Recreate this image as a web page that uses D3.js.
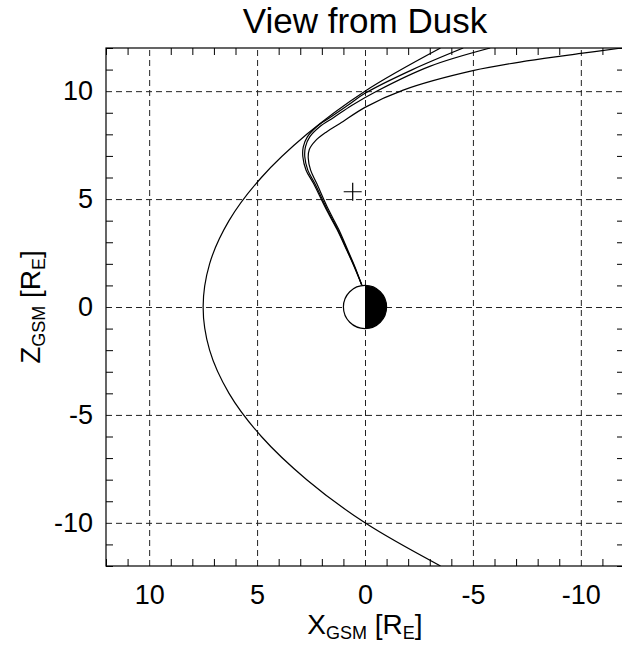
<!DOCTYPE html>
<html>
<head>
<meta charset="utf-8">
<script src="https://cdn.jsdelivr.net/npm/d3@7"></script>
<style>
  body { margin: 0; background: #fff; }
  text { font-family: "Liberation Sans", Arial, Helvetica, sans-serif; fill: #000; }
</style>
</head>
<body>
<svg id="chart" width="622" height="647"></svg>
<script>
// - - - - - - - - - -
// data (X_GSM, Z_GSM in Earth radii)
// - - - - - - - - - -
const majorTicks = [10, 5, 0, -5, -10];
const tickLabels = ['10', '5', '0', '-5', '-10'];
const minorTicks = [-12, -11, -9, -8, -7, -6, -4, -3, -2, -1, 1, 2, 3, 4, 6, 7, 8, 9, 11, 12];

const magnetopause = [
    [-3.5, -12], [0, -10], [2.7, -8], [4.8, -6], [6.3, -4], [7.2, -2], [7.5, 0],
    [7.2, 2], [6.3, 4], [4.8, 6], [2.7, 8], [0, 10], [-3.5, 12]
];
const fieldLineA = [
    [0.15, 1.02], [0.5, 1.87], [0.85, 2.64], [1.3, 3.6], [1.78, 4.49], [2.39, 5.73],
    [2.73, 6.34], [2.88, 6.96], [2.86, 7.42], [2.67, 7.88], [2.24, 8.35], [1.62, 8.78],
    [0.85, 9.31], [0, 9.9], [-2.2, 11.0], [-4.55, 12.0]
];
const fieldLineB = [
    [0.15, 1.02], [0.49, 1.87], [0.83, 2.64], [1.27, 3.6], [1.74, 4.49], [2.33, 5.73],
    [2.65, 6.34], [2.79, 6.96], [2.76, 7.42], [2.56, 7.88], [2.1, 8.35], [1.45, 8.78],
    [0.6, 9.35], [-0.54, 10.0], [-3.0, 11.15], [-5.8, 12.0]
];
const fieldLineC = [
    [0.15, 1.02], [0.47, 1.87], [0.8, 2.64], [1.22, 3.6], [1.68, 4.49], [2.24, 5.73],
    [2.52, 6.34], [2.63, 6.9], [2.58, 7.3], [2.3, 7.7], [1.8, 8.1], [1.16, 8.5],
    [0, 9.25], [-1.77, 10.05], [-5.0, 10.95], [-7.5, 11.4], [-10, 11.75], [-11.9, 12.0]
];
const spacecraft = [[0.57, 5.34]];

// - - - - - - - - - -
const svg = d3.select('#chart');
const plotLeft = 106, plotTop = 48, size = 518;

const x = d3.scaleLinear().domain([12, -12]).range([plotLeft, plotLeft + size]);
const z = d3.scaleLinear().domain([12, -12]).range([plotTop, plotTop + size]);

// clip for the curves
svg.append('clipPath').attr('id', 'plot')
    .append('rect').attr('x', plotLeft).attr('y', plotTop).attr('width', size).attr('height', size);

// dashed grid at major values
const gridStyle = g => {
    g.select('.domain').remove();
    g.selectAll('line').attr('stroke', '#222').attr('stroke-width', 1).attr('stroke-dasharray', '6,4');
};
svg.append('g').attr('transform', `translate(0,${plotTop + size})`)
    .call(d3.axisBottom(x).tickValues(majorTicks).tickSize(-size).tickFormat(''))
    .call(gridStyle);
svg.append('g').attr('transform', `translate(${plotLeft},0)`)
    .call(d3.axisLeft(z).tickValues(majorTicks).tickSize(-size).tickFormat(''))
    .call(gridStyle);

// minor ticks on all four sides
const tickStyle = g => {
    g.select('.domain').remove();
    g.selectAll('line').attr('stroke', '#000').attr('stroke-width', 1);
};
svg.append('g').attr('transform', `translate(0,${plotTop + size})`)
    .call(d3.axisBottom(x).tickValues(minorTicks).tickSize(-7).tickFormat('')).call(tickStyle);
svg.append('g').attr('transform', `translate(0,${plotTop})`)
    .call(d3.axisTop(x).tickValues(minorTicks).tickSize(-7).tickFormat('')).call(tickStyle);
svg.append('g').attr('transform', `translate(${plotLeft},0)`)
    .call(d3.axisLeft(z).tickValues(minorTicks).tickSize(-7).tickFormat('')).call(tickStyle);
svg.append('g').attr('transform', `translate(${plotLeft + size},0)`)
    .call(d3.axisRight(z).tickValues(minorTicks).tickSize(-7).tickFormat('')).call(tickStyle);

// tick labels
const labelStyle = g => {
    g.select('.domain').remove();
    g.selectAll('line').remove();
    g.selectAll('text').attr('font-size', 27)
        .style('font-family', '"Liberation Sans", Arial, sans-serif').attr('fill', '#000');
};
svg.append('g').attr('transform', `translate(0,${plotTop + size})`)
    .call(d3.axisBottom(x).tickValues(majorTicks).tickSize(0).tickPadding(19)
        .tickFormat((d, i) => tickLabels[i]))
    .call(labelStyle);
svg.append('g').attr('transform', `translate(${plotLeft},0)`)
    .call(d3.axisLeft(z).tickValues(majorTicks).tickSize(0).tickPadding(13)
        .tickFormat((d, i) => tickLabels[i]))
    .call(labelStyle);

// frame
svg.append('rect').attr('x', plotLeft).attr('y', plotTop).attr('width', size).attr('height', size)
    .attr('fill', 'none').attr('stroke', '#000').attr('stroke-width', 1.2);

// - - - - - - - - - -
// curves
const line = d3.line().x(d => x(d[0])).y(d => z(d[1])).curve(d3.curveCatmullRom.alpha(0.5));
const curves = svg.append('g').attr('clip-path', 'url(#plot)');
[magnetopause, fieldLineA, fieldLineB, fieldLineC].forEach(data => {
    curves.append('path').attr('d', line(data))
        .attr('fill', 'none').attr('stroke', '#000').attr('stroke-width', 1.2);
});

// spacecraft marker
svg.selectAll('.sc').data(spacecraft).join('path').attr('class', 'sc')
    .attr('d', d => `M${x(d[0]) - 9},${z(d[1])}H${x(d[0]) + 9}M${x(d[0])},${z(d[1]) - 9}V${z(d[1]) + 9}`)
    .attr('stroke', '#000').attr('stroke-width', 1.2);

// Earth: day side white, night side black
const r = x(0) - x(1);
const earth = svg.append('g').attr('transform', `translate(${x(0)},${z(0)})`);
earth.append('path').attr('d', d3.arc()({innerRadius: 0, outerRadius: r, startAngle: Math.PI, endAngle: 2 * Math.PI}))
    .attr('fill', '#fff');
earth.append('path').attr('d', d3.arc()({innerRadius: 0, outerRadius: r, startAngle: 0, endAngle: Math.PI}))
    .attr('fill', '#000');
earth.append('circle').attr('r', r).attr('fill', 'none').attr('stroke', '#000').attr('stroke-width', 1.2);

// - - - - - - - - - -
// titles
svg.append('text').attr('x', x(0)).attr('y', 33).attr('text-anchor', 'middle')
    .attr('font-size', 35).text('View from Dusk');

const xTitle = svg.append('text').attr('x', x(0)).attr('y', 634).attr('text-anchor', 'middle').attr('font-size', 28);
xTitle.append('tspan').text('X');
xTitle.append('tspan').attr('font-size', 18).attr('dy', 5).text('GSM');
xTitle.append('tspan').attr('dy', -5).text(' [R');
xTitle.append('tspan').attr('font-size', 18).attr('dy', 5).text('E');
xTitle.append('tspan').attr('dy', -5).text(']');

const yTitle = svg.append('text').attr('transform', `translate(40,${z(0)}) rotate(-90)`)
    .attr('text-anchor', 'middle').attr('font-size', 28);
yTitle.append('tspan').text('Z');
yTitle.append('tspan').attr('font-size', 18).attr('dy', 5).text('GSM');
yTitle.append('tspan').attr('dy', -5).text(' [R');
yTitle.append('tspan').attr('font-size', 18).attr('dy', 5).text('E');
yTitle.append('tspan').attr('dy', -5).text(']');
</script>
</body>
</html>
